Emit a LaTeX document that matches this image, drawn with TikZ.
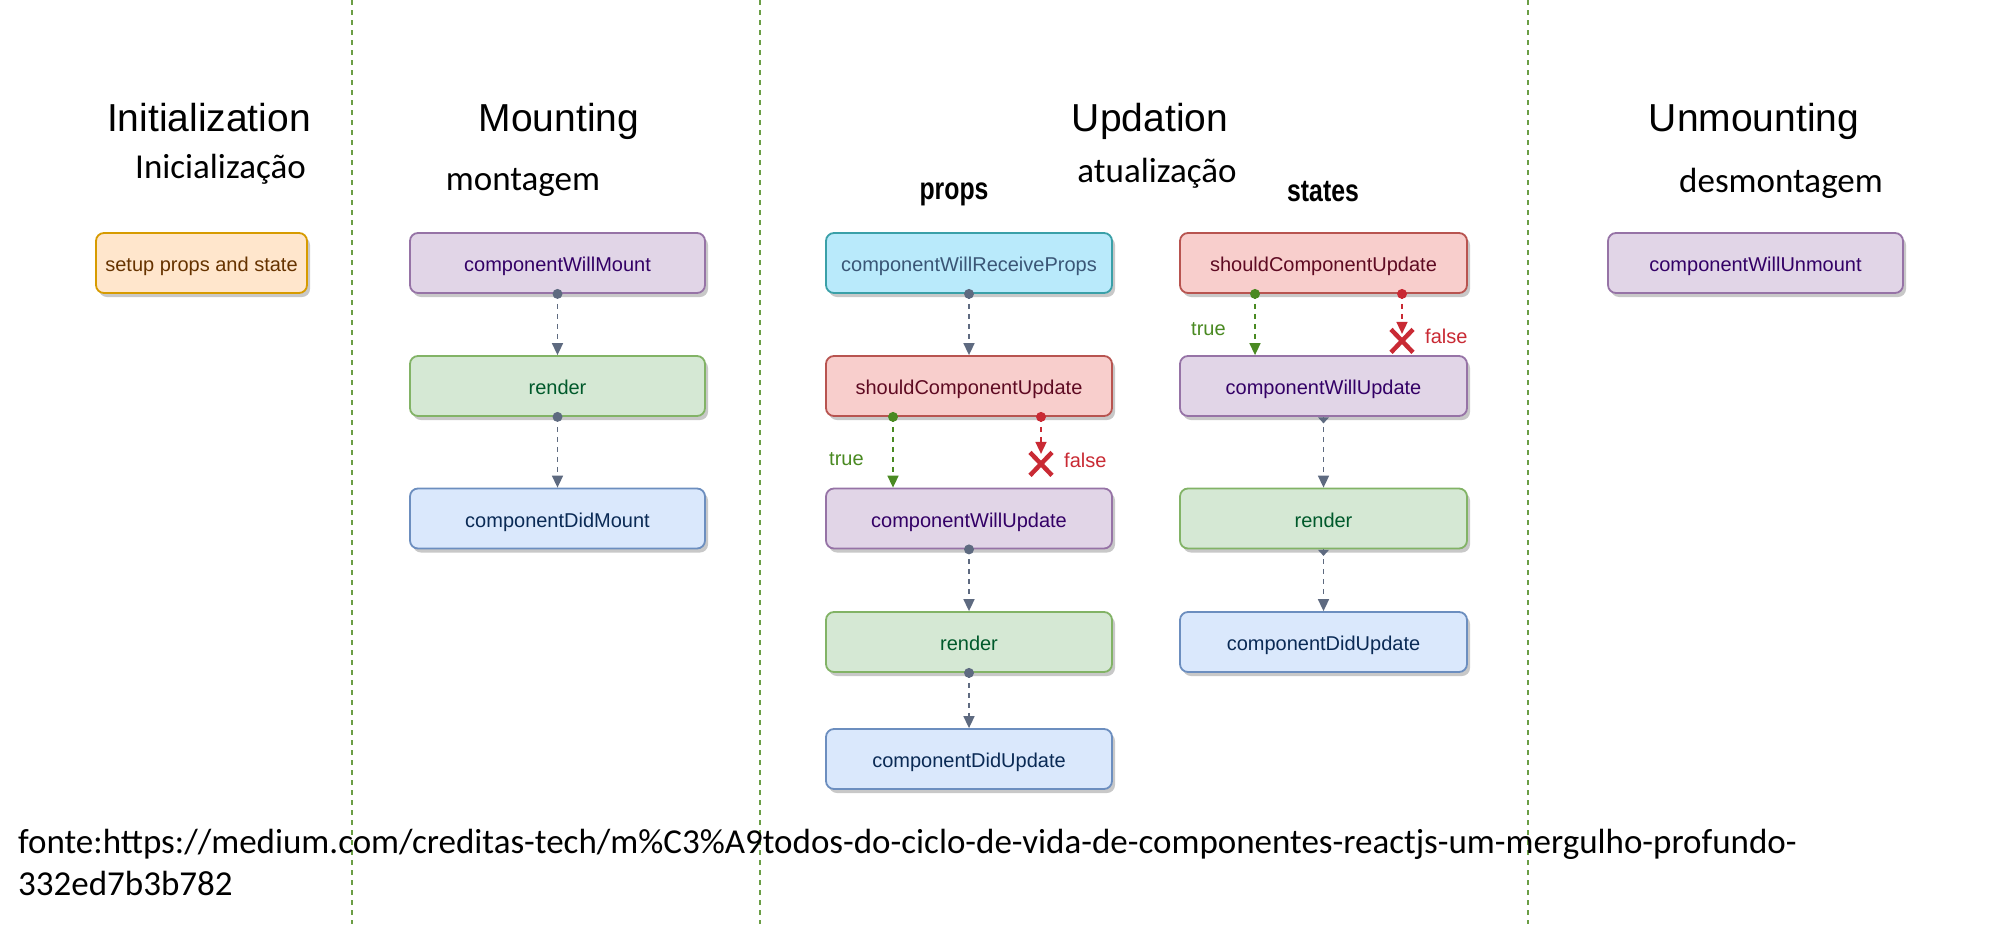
\documentclass[tikz,border=0pt]{standalone}
\usepackage{fontspec}
\setmainfont{Liberation Sans}
\newfontfamily\calfont{Carlito}
\newfontfamily\condfont[FakeStretch=0.8]{Liberation Sans}
\usetikzlibrary{arrows.meta,shadows,calc}
\definecolor{divgreen}{HTML}{6B9E45}
\definecolor{shadowgray}{HTML}{C8C8C8}
\definecolor{conngray}{HTML}{5E6A80}
\definecolor{tgreen}{HTML}{4A8A22}
\definecolor{fred}{HTML}{C92A34}
\definecolor{orfill}{HTML}{FFE6CC}\definecolor{ordraw}{HTML}{D79B00}\definecolor{ortext}{HTML}{663300}
\definecolor{pufill}{HTML}{E1D5E7}\definecolor{pudraw}{HTML}{9673A6}\definecolor{putext}{HTML}{330066}
\definecolor{grfill}{HTML}{D5E8D4}\definecolor{grdraw}{HTML}{82B366}\definecolor{grtext}{HTML}{00592B}
\definecolor{blfill}{HTML}{DAE8FC}\definecolor{bldraw}{HTML}{6C8EBF}\definecolor{bltext}{HTML}{0A2A55}
\definecolor{refill}{HTML}{F8CECC}\definecolor{redraw}{HTML}{B85450}\definecolor{retext}{HTML}{5E0A22}
\definecolor{cyfill}{HTML}{B9EAFB}\definecolor{cydraw}{HTML}{3AA0A8}\definecolor{cytext}{HTML}{3A5676}
\begin{document}
\begin{tikzpicture}[x=1pt,y=-1pt,
  box/.style={draw, rounded corners=8pt, line width=1.8pt, minimum height=60pt,
    inner xsep=0pt, inner ysep=0pt, text height=17pt, text depth=0pt,
    font=\fontsize{20}{24}\selectfont,
    drop shadow={shadow xshift=3pt, shadow yshift=-4pt, fill=shadowgray, opacity=1}},
  orbox/.style={box, fill=orfill, draw=ordraw, text=ortext},
  pubox/.style={box, fill=pufill, draw=pudraw, text=putext},
  grbox/.style={box, fill=grfill, draw=grdraw, text=grtext},
  blbox/.style={box, fill=blfill, draw=bldraw, text=bltext},
  rebox/.style={box, fill=refill, draw=redraw, text=retext},
  cybox/.style={box, fill=cyfill, draw=cydraw, text=cytext},
  wA/.style={minimum width=295pt},
  wP/.style={minimum width=286pt},
  wS/.style={minimum width=287pt},
  conn/.style={dash pattern=on 5pt off 5pt, line width=1.6pt, draw=conngray,
    -{Triangle[length=12pt,width=11pt]}},
  dotc/.style={fill=conngray},
  divider/.style={draw=divgreen, line width=1.4pt, dash pattern=on 5pt off 5pt},
  title/.style={anchor=base, font=\fontsize{39}{46}\selectfont, text=black},
  subtitle/.style={anchor=base, font=\calfont\fontsize{35}{42}\selectfont, text=black},
  coltitle/.style={anchor=base, font=\condfont\bfseries\fontsize{31}{36}\selectfont, text=black},
  blabel/.style={anchor=base west, font=\fontsize{20}{24}\selectfont, inner sep=0pt},
  xmark/.style={draw=fred, line width=4.5pt},
  footer/.style={anchor=base west, font=\calfont\fontsize{35}{42}\selectfont, inner sep=0pt}
]
\useasboundingbox[fill=white] (0,0) rectangle (2000,924);

% dividers
\draw[divider] (352,0) -- (352,924);
\draw[divider] (760,0) -- (760,924);
\draw[divider] (1528,0) -- (1528,924);

% titles
\node[title] (tInit) at (209,131) {Initialization};
\node[title] (tMount) at (559,131) {Mounting};
\node[title] (tUpd) at (1150,131) {Updation};
\node[title] (tUnm) at (1754,131) {Unmounting};
\node[subtitle] (sInit) at (220.5,178) {Inicialização};
\node[subtitle] (sMount) at (523,190) {montagem};
\node[subtitle] (sUpd) at (1157,182) {atualização};
\node[subtitle] (sUnm) at (1781,192) {desmontagem};
\node[coltitle] (cProps) at (954,199) {props};
\node[coltitle] (cStates) at (1323,201) {states};

% initialization
\node[orbox, minimum width=211pt] (setup) at (201.5,263) {setup props and state};

% mounting
\node[pubox, wA] (cwm) at (557.5,263) {componentWillMount};
\node[grbox, wA] (mrender) at (557.5,386) {render};
\node[blbox, wA] (cdm) at (557.5,518.5) {componentDidMount};

% updation props
\node[cybox, wP] (cwrp) at (969,263) {componentWillReceiveProps};
\node[rebox, wP] (scuP) at (969,386) {shouldComponentUpdate};
\node[pubox, wP] (cwuP) at (969,518.5) {componentWillUpdate};
\node[grbox, wP] (renderP) at (969,642) {render};
\node[blbox, wP] (cduP) at (969,759) {componentDidUpdate};

% updation states
\node[rebox, wS] (scuS) at (1323.5,263) {shouldComponentUpdate};
\node[pubox, wS] (cwuS) at (1323.5,386) {componentWillUpdate};
\node[grbox, wS] (renderS) at (1323.5,518.5) {render};
\node[blbox, wS] (cduS) at (1323.5,642) {componentDidUpdate};

% unmounting
\node[pubox, wA] (cwum) at (1755.5,263) {componentWillUnmount};

% mounting connectors
\draw[conn] (cwm.south) -- (mrender.north);
\fill[dotc] (cwm.south) circle[radius=5pt];
\draw[conn] (mrender.south) -- (cdm.north);
\fill[dotc] (mrender.south) circle[radius=5pt];

% props connectors
\draw[conn] (cwrp.south) -- (scuP.north);
\fill[dotc] (cwrp.south) circle[radius=5pt];
\draw[conn, draw=tgreen] ([xshift=-76pt]scuP.south) -- ([xshift=-76pt]cwuP.north);
\fill[tgreen] ([xshift=-76pt]scuP.south) circle[radius=5pt];
\coordinate (xP) at ([xshift=72pt,yshift=-47pt]scuP.south);
\draw[conn, draw=fred, shorten >=10pt] ([xshift=72pt]scuP.south) -- (xP);
\fill[fred] ([xshift=72pt]scuP.south) circle[radius=5pt];
\draw[xmark] ($(xP)+(-11,-11.5)$) -- ($(xP)+(11,11.5)$);
\draw[xmark] ($(xP)+(11,-11.5)$) -- ($(xP)+(-11,11.5)$);
\node[blabel, text=tgreen] (tP) at (829,465) {true};
\node[blabel, text=fred] (fP) at (1064,467) {false};
\draw[conn] (cwuP.south) -- (renderP.north);
\fill[dotc] (cwuP.south) circle[radius=5pt];
\draw[conn] (renderP.south) -- (cduP.north);
\fill[dotc] (renderP.south) circle[radius=5pt];

% states connectors
\draw[conn, draw=tgreen] ([xshift=-68.5pt]scuS.south) -- ([xshift=-68.5pt]cwuS.north);
\fill[tgreen] ([xshift=-68.5pt]scuS.south) circle[radius=5pt];
\coordinate (xS) at ([xshift=78.5pt,yshift=-47pt]scuS.south);
\draw[conn, draw=fred, shorten >=7pt] ([xshift=78.5pt]scuS.south) -- (xS);
\fill[fred] ([xshift=78.5pt]scuS.south) circle[radius=5pt];
\draw[xmark] ($(xS)+(-11,-11.5)$) -- ($(xS)+(11,11.5)$);
\draw[xmark] ($(xS)+(11,-11.5)$) -- ($(xS)+(-11,11.5)$);
\node[blabel, text=tgreen] (tS) at (1191,335) {true};
\node[blabel, text=fred] (fS) at (1425,343) {false};
\draw[conn] (cwuS.south) -- (renderS.north);
\fill[dotc] ($(cwuS.south)+(-5.5,0.5)$) -- ($(cwuS.south)+(5.5,0.5)$) -- ($(cwuS.south)+(0,6.5)$) -- cycle;
\draw[conn] (renderS.south) -- (cduS.north);
\fill[dotc] ($(renderS.south)+(-5.5,0.5)$) -- ($(renderS.south)+(5.5,0.5)$) -- ($(renderS.south)+(0,6.5)$) -- cycle;

% footer
\node[footer] (foot1) at (18,853) {fonte:https://medium.com/creditas-tech/m\%C3\%A9todos-do-ciclo-de-vida-de-componentes-reactjs-um-mergulho-profundo-};
\node[footer] (foot2) at (18,895) {332ed7b3b782};
\end{tikzpicture}
\end{document}
